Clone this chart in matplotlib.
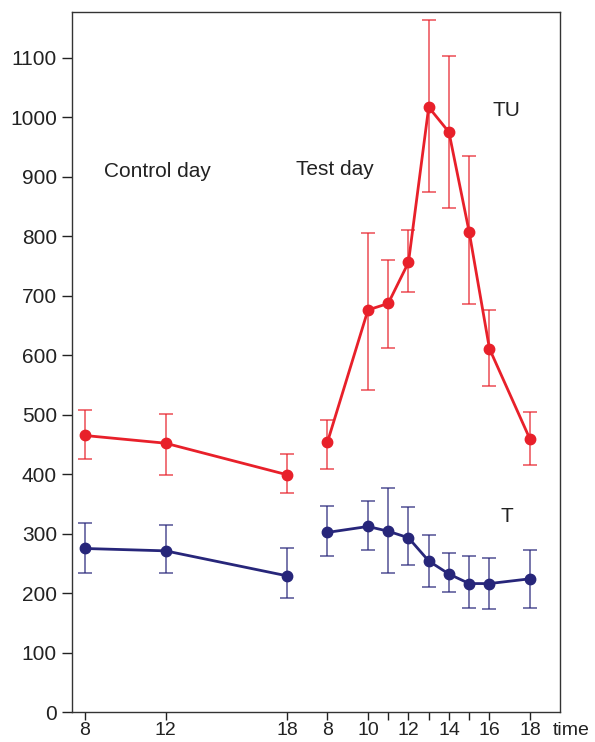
import numpy as np
import matplotlib.pyplot as plt

plt.rcParams['font.family'] = ['Liberation Sans', 'DejaVu Sans']

# control day hours 8, 12, 18 ; test day hours 8, 10, 11 ... 16, 18
ctrl_hours = [8, 12, 18]
test_hours = [8, 10, 11, 12, 13, 14, 15, 16, 18]

# TU (red)
tu_ctrl = [465, 452, 399]
tu_ctrl_hi = [508, 501, 434]
tu_ctrl_lo = [425, 399, 369]
tu_test = [454, 676, 687, 756, 1017, 975, 807, 611, 459]
tu_test_hi = [491, 805, 760, 811, 1164, 1103, 935, 676, 505]
tu_test_lo = [409, 542, 612, 706, 875, 848, 686, 549, 415]

# T (blue)
t_ctrl = [275, 271, 229]
t_ctrl_hi = [317, 314, 275]
t_ctrl_lo = [234, 234, 191]
t_test = [302, 312, 304, 293, 254, 232, 216, 216, 224]
t_test_hi = [347, 354, 376, 344, 297, 267, 262, 259, 272]
t_test_lo = [263, 272, 233, 247, 210, 202, 175, 174, 175]

tick_labels = ['8', '12', '18', '8', '10', '12', '14', '16', '18']

red = '#e8202a'
blue = '#27267a'
txt = '#222222'
fs = 15

# both days on one axis: test day 8 h sits 12 units after control day 8 h
def xpos_ctrl(h):
    return np.array(h) - 8

def xpos_test(h):
    return np.array(h) - 8 + 12

fig = plt.figure(figsize=(5.95, 7.42), dpi=100)
ax = fig.add_axes([0.1203, 0.0404, 0.8207, 0.9434])

def draw(x, y, lo, hi, color):
    y = np.array(y)
    err = [y - np.array(lo), np.array(hi) - y]
    ax.errorbar(x, y, yerr=err, fmt='none', ecolor=color, elinewidth=1.1,
                capsize=5, capthick=1.1, alpha=0.8, zorder=2)
    ax.plot(x, y, '-o', color=color, lw=2.0, ms=7.5, zorder=3)

draw(xpos_ctrl(ctrl_hours), tu_ctrl, tu_ctrl_lo, tu_ctrl_hi, red)
draw(xpos_test(test_hours), tu_test, tu_test_lo, tu_test_hi, red)
draw(xpos_ctrl(ctrl_hours), t_ctrl, t_ctrl_lo, t_ctrl_hi, blue)
draw(xpos_test(test_hours), t_test, t_test_lo, t_test_hi, blue)

ax.set_xlim(-0.64, 23.48)
ax.set_ylim(0, 1177)
ax.set_yticks(range(0, 1101, 100))

major = list(xpos_ctrl(ctrl_hours)) + list(xpos_test([8, 10, 12, 14, 16, 18]))
ax.set_xticks(major)
ax.set_xticklabels(tick_labels)
ax.set_xticks(list(xpos_test([11, 13, 15])), minor=True)
ax.tick_params(axis='y', direction='out', length=7, width=1,
               labelsize=fs, colors=txt)
ax.tick_params(axis='x', which='both', direction='out', length=6, width=1,
               labelsize=14, colors=txt, pad=1)
for s in ax.spines.values():
    s.set_color('#333333')
    s.set_linewidth(1.0)

ax.annotate('time', xy=(23.14, 0), xycoords=('data', 'axes fraction'),
            xytext=(0, -7), textcoords='offset points', fontsize=14,
            color=txt, ha='left', va='top', annotation_clip=False)

ax.text(0.96, 900, 'Control day', fontsize=fs, color=txt, va='baseline')
ax.text(10.44, 903, 'Test day', fontsize=fs, color=txt, va='baseline')
ax.text(20.17, 1002, 'TU', fontsize=fs, color=txt, va='baseline')
ax.text(20.57, 320, 'T', fontsize=fs, color=txt, va='baseline')

fig.patch.set_facecolor('white')
fig.savefig('out.png', dpi=100)
